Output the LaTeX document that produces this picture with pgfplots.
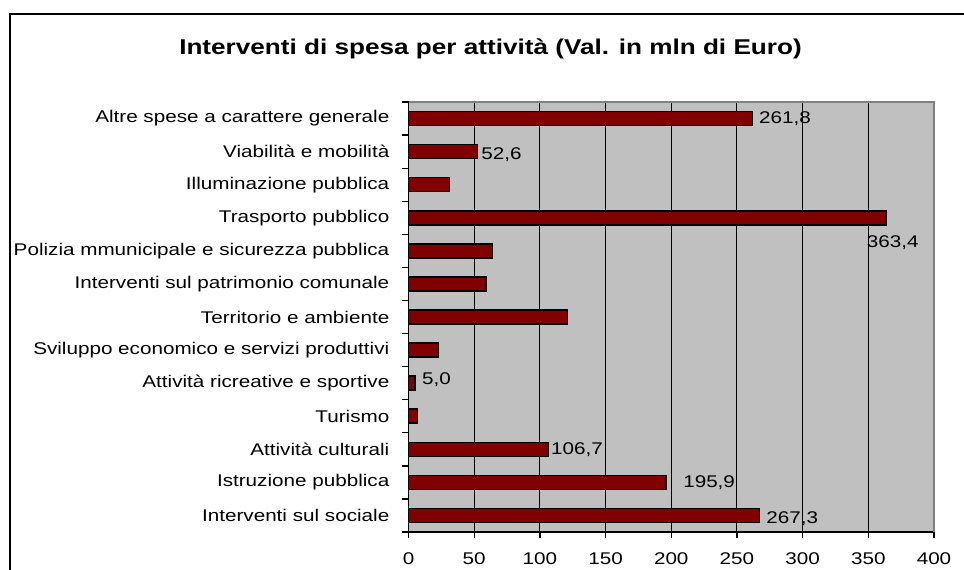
\documentclass[border=0pt]{standalone}
\usepackage{fontspec}
\setmainfont{Liberation Sans}[FakeStretch=1.22]
\usepackage{pgfplots}
\pgfplotsset{compat=1.18}
\definecolor{barRed}{RGB}{128,0,0}
\definecolor{plotGray}{RGB}{192,192,192}
\definecolor{edgeGray}{RGB}{128,128,128}

\begin{document}
\begin{tikzpicture}
% outer frame (right and bottom fall outside the page)
\draw[line width=2bp] (10bp,-620bp) -- (10bp,-14bp) -- (1000bp,-14bp);
\node[font=\bfseries\fontsize{21.5}{24}\selectfont] at (490.5bp,-49bp)
  {Interventi di spesa per attività (Val. in mln di Euro)};

\begin{axis}[
  at={(408.5bp,-532bp)}, anchor=south west,
  width=525.5bp, height=430bp, scale only axis,
  xmin=0, xmax=400, ymin=-0.5, ymax=12.5,
  axis lines=left,
  axis line style={black, line width=1.3bp, -},
  axis background/.style={fill=plotGray},
  xtick={0,50,...,400},
  ytick={0,...,12},
  minor ytick={-0.5,0.5,...,12.5},
  yticklabels={
    Interventi sul sociale,
    Istruzione pubblica,
    Attività culturali,
    Turismo,
    Attività ricreative e sportive,
    Sviluppo economico e servizi produttivi,
    Territorio e ambiente,
    Interventi sul patrimonio comunale,
    Polizia mmunicipale e sicurezza pubblica,
    Trasporto pubblico,
    Illuminazione pubblica,
    Viabilità e mobilità,
    Altre spese a carattere generale},
  tick align=outside,
  major tick length=6bp,
  minor tick length=6bp,
  y tick style={draw=none},
  minor y tick style={draw=black, line width=1.3bp},
  x tick style={black, line width=1.3bp},
  xmajorgrids,
  major grid style={black, line width=0.9bp},
  /pgf/number format/assume math mode=true,
  tick label style={font=\fontsize{17}{19}\selectfont},
  yticklabel style={anchor=east, inner sep=0pt, xshift=-13bp},
  xticklabel style={anchor=north, inner sep=0pt, yshift=-14bp},
  clip=false,
]
\addplot[xbar, bar width=14bp, bar shift=0pt, fill=barRed, draw=black, line width=1.5bp]
  coordinates {
  (267.3,0)
  (195.9,1)
  (106.7,2)
  (6.8,3)
  (5.0,4)
  (22.7,5)
  (121,6)
  (59,7)
  (64,8)
  (363.4,9)
  (31.3,10)
  (52.6,11)
  (261.8,12)
};
% value labels, placed where the reference shows them
\addplot[draw=none, mark=none, nodes near coords, point meta=explicit symbolic,
  nodes near coords style={anchor=west, inner sep=0pt, font=\fontsize{17}{19}\selectfont}]
  coordinates {
  (272.2,-0.09) [{267,3}]
  (209,1) [{195,9}]
  (108.4,2) [{106,7}]
  (10.2,4.1) [{5,0}]
  (348.8,8.25) [{363,4}]
  (55.3,10.9) [{52,6}]
  (266.8,12) [{261,8}]
};
\draw[edgeGray, line width=1.5bp] (rel axis cs:0,1) -- (rel axis cs:1,1) -- (rel axis cs:1,0);
\end{axis}
\pgfresetboundingbox
\useasboundingbox (0bp,0bp) rectangle (964bp,-570bp);
\end{tikzpicture}
\end{document}
